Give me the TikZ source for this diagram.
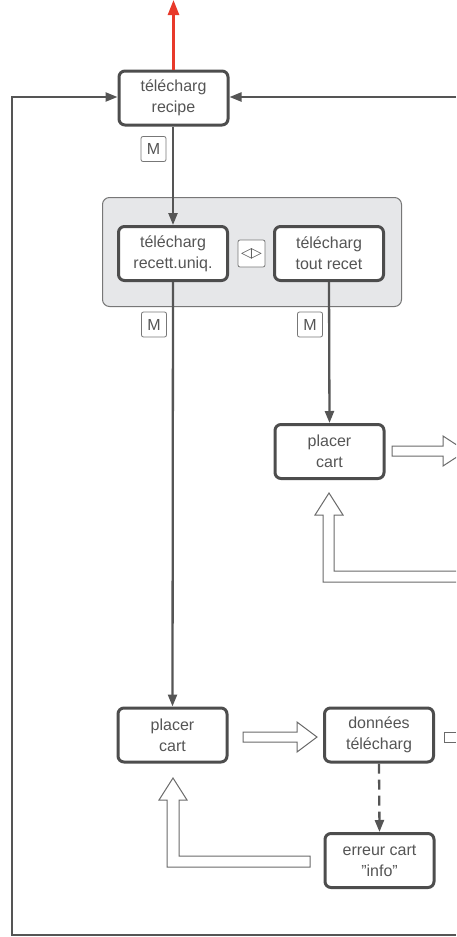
\documentclass[tikz,border=0pt]{standalone}
\usepackage{fontspec}
\setmainfont{Liberation Sans}
\newfontfamily\symfont{DejaVu Sans}
\usetikzlibrary{arrows.meta}
\definecolor{boxline}{HTML}{4D4D4D}
\definecolor{txt}{HTML}{555555}
\definecolor{conn}{HTML}{555555}
\definecolor{grp}{HTML}{E6E7E9}
\definecolor{grpline}{HTML}{777777}
\definecolor{hollow}{HTML}{6A6A6A}
\definecolor{redarr}{HTML}{E8392A}
\tikzset{
  stepbox/.style={draw=boxline, line width=3pt, fill=white, rounded corners=6pt,
    minimum width=109pt, minimum height=54pt, inner sep=0pt, align=center,
    text=txt, font=\fontsize{16}{21}\selectfont},
  keybox/.style={draw=grpline, line width=0.8pt, fill=white, rounded corners=2pt,
    minimum width=25pt, minimum height=25pt, inner sep=0pt, text=txt,
    font=\fontsize{16}{16}\selectfont},
  connector/.style={draw=conn, line width=2.3pt, -{Triangle[length=12pt,width=9pt]}},
  hollowarrow/.style={draw=hollow, line width=1pt, fill=white},
}
\begin{document}
\begin{tikzpicture}[x=1pt,y=-1pt]
\useasboundingbox (0,0) rectangle (456,937);
\clip (0,0) rectangle (456,937);
\fill[white] (0,0) rectangle (456,937);

% group background
\node[draw=grpline, line width=1pt, fill=grp, rounded corners=7pt,
  minimum width=299pt, minimum height=109pt, inner sep=0pt] (grp) at (252,252) {};

% nodes
\node[stepbox] (recipe) at (173.5,98) {télécharg\\recipe};
\node[stepbox] (uniq) at (173,253.5) {télécharg\\recett.uniq.};
\node[stepbox] (tout) at (329,253.5) {télécharg\\tout recet};
\node[stepbox] (placerA) at (329.5,451.5) {placer\\cart};
\node[stepbox] (placerB) at (172.5,735) {placer\\cart};
\node[stepbox] (donnees) at (379,735) {données\\télécharg};
\node[stepbox] (erreur) at (379.5,860.5) {erreur cart\\”info”};

\node[keybox] (m1) at (153.5,149) {M};
\node[keybox] (m2) at (154,324.5) {M};
\node[keybox] (m3) at (310,324.5) {M};
\node[keybox, minimum width=27pt, minimum height=27pt, font=\symfont\fontsize{14}{14}\selectfont] (lr) at (251.5,253.5) {◁\kern-1pt▷};

% free ends
\coordinate (redtop) at (173.5,0);
\coordinate (rightin) at (456,97);
\coordinate (botright) at (456,935);
\coordinate (botleft) at (12,935);
\coordinate (topleft) at (12,97);

% connectors
\draw[draw=redarr, line width=2.5pt, -{Triangle[length=15pt,width=11pt]}] (recipe.north) -- (redtop);
\draw[connector] (rightin) -- (recipe.east |- rightin);
\draw[connector] (botright) -- (botleft) -- (topleft) -- (recipe.west |- topleft);
\draw[connector] (recipe.south -| uniq.north) -- (uniq.north);
\draw[connector] (uniq.south) -- (placerB.north);
\draw[connector] (tout.south) -- (placerA.north);
\draw[connector, dash pattern=on 10pt off 6pt] (donnees.south) -- (erreur.north);

% hollow arrows
\draw[hollowarrow] (392,446) -- (443,446) -- (443,436) -- (466,451) -- (443,466) -- (443,456) -- (392,456) -- cycle;
\draw[hollowarrow, fill=none] (456,571) -- (334,571) -- (334,515) -- (343,515) -- (329,493) -- (315,515) -- (323,515) -- (323,582) -- (456,582);
\draw[hollowarrow] (243,732) -- (297,732) -- (297,722) -- (317,737) -- (297,752) -- (297,742) -- (243,742) -- cycle;
\draw[hollowarrow, fill=none] (456,732) -- (444,732) -- (444,742) -- (456,742);
\draw[hollowarrow] (310,856) -- (179,856) -- (179,800) -- (187,800) -- (173,778) -- (159,800) -- (167,800) -- (167,867) -- (310,867) -- cycle;
\end{tikzpicture}
\end{document}
